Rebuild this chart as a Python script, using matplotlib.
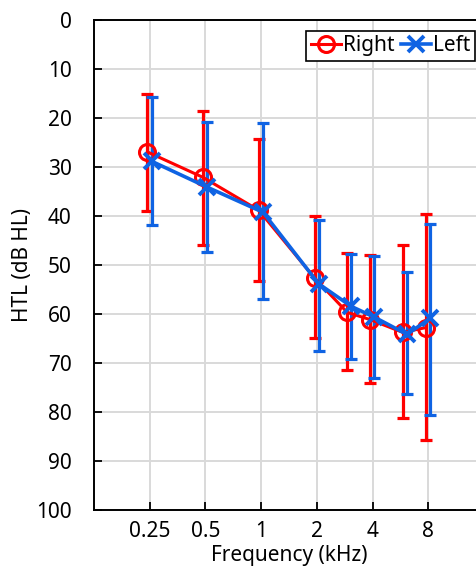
import matplotlib
matplotlib.use("Agg")
import matplotlib.pyplot as plt
from matplotlib.ticker import FixedLocator, FixedFormatter, NullLocator

plt.rcParams['font.family'] = ['Noto Sans', 'DejaVu Sans']

freqs = [0.25, 0.5, 1, 2, 3, 4, 6, 8]
right_mean = [27.0, 32.2, 38.9, 52.7, 59.7, 61.2, 63.8, 62.8]
right_top = [15.1, 18.7, 24.3, 40.1, 47.6, 48.0, 45.9, 39.6]
right_bot = [39.0, 45.9, 53.4, 65.0, 71.5, 74.1, 81.3, 85.8]
left_mean = [28.9, 34.2, 39.3, 53.9, 58.5, 60.7, 64.2, 60.9]
left_top = [15.9, 20.9, 21.2, 40.8, 47.9, 48.3, 51.5, 41.6]
left_bot = [41.8, 47.3, 57.0, 67.6, 69.2, 73.1, 76.4, 80.6]
xtick_vals = [0.25, 0.5, 1, 2, 4, 8]
xtick_labels = ["0.25", "0.5", "1", "2", "4", "8"]
ytick_vals = [0, 10, 20, 30, 40, 50, 60, 70, 80, 90, 100]

red = '#ff0000'
blue = '#0f63e3'

fig = plt.figure(figsize=(4.77, 5.66), dpi=100)
ax = fig.add_axes([94/477, 56/566, 390/477, 490.5/566])

def draw(f, mean, top, bot, color, marker, label, shift):
    xs = [v * shift for v in f]
    yerr = [[m - t for m, t in zip(mean, top)], [b - m for m, b in zip(mean, bot)]]
    ax.errorbar(xs, mean, yerr=yerr, fmt='none', ecolor=color, elinewidth=2.3,
                capsize=4, capthick=2.3, zorder=3)
    if marker == 'o':
        ax.plot(xs, mean, color=color, lw=2.2, marker='o', ms=11.5, mfc='none',
                mew=2.2, label=label, zorder=4)
    else:
        ax.plot(xs, mean, color=color, lw=2.6, marker='x', ms=11,
                mew=2.8, label=label, zorder=5)

draw(freqs, right_mean, right_top, right_bot, red, 'o', 'Right', 0.972)
draw(freqs, left_mean, left_top, left_bot, blue, 'x', 'Left', 1.024)

ax.set_xscale('log')
ax.set_xlim(0.125, 16)
ax.set_ylim(100, 0)
ax.xaxis.set_major_locator(FixedLocator(xtick_vals))
ax.xaxis.set_major_formatter(FixedFormatter(xtick_labels))
ax.xaxis.set_minor_locator(NullLocator())
ax.set_yticks(ytick_vals)
ax.tick_params(axis='both', direction='in', length=6, width=1.3, labelsize=15, colors='black')
ax.tick_params(axis='x', pad=8)
ax.tick_params(axis='y', pad=16)
ax.grid(True, color='#d9d9d9', lw=1.4)
ax.set_axisbelow(True)
for s in ax.spines.values():
    s.set_linewidth(1.4)
ax.set_xlabel('Frequency (kHz)', fontsize=15, labelpad=2)
ax.set_ylabel('HTL (dB HL)', fontsize=15, labelpad=2.5)

leg = ax.legend(loc='upper right', bbox_to_anchor=((475 - 94) / 390, 1 - 11/490.5), ncol=2,
                fontsize=15, frameon=True, fancybox=False, edgecolor='black',
                framealpha=1, handlelength=1.45, handletextpad=0.1, columnspacing=0.3,
                borderpad=0.22, borderaxespad=0)
leg.get_frame().set_linewidth(1.2)

fig.savefig('out.png', dpi=100)
